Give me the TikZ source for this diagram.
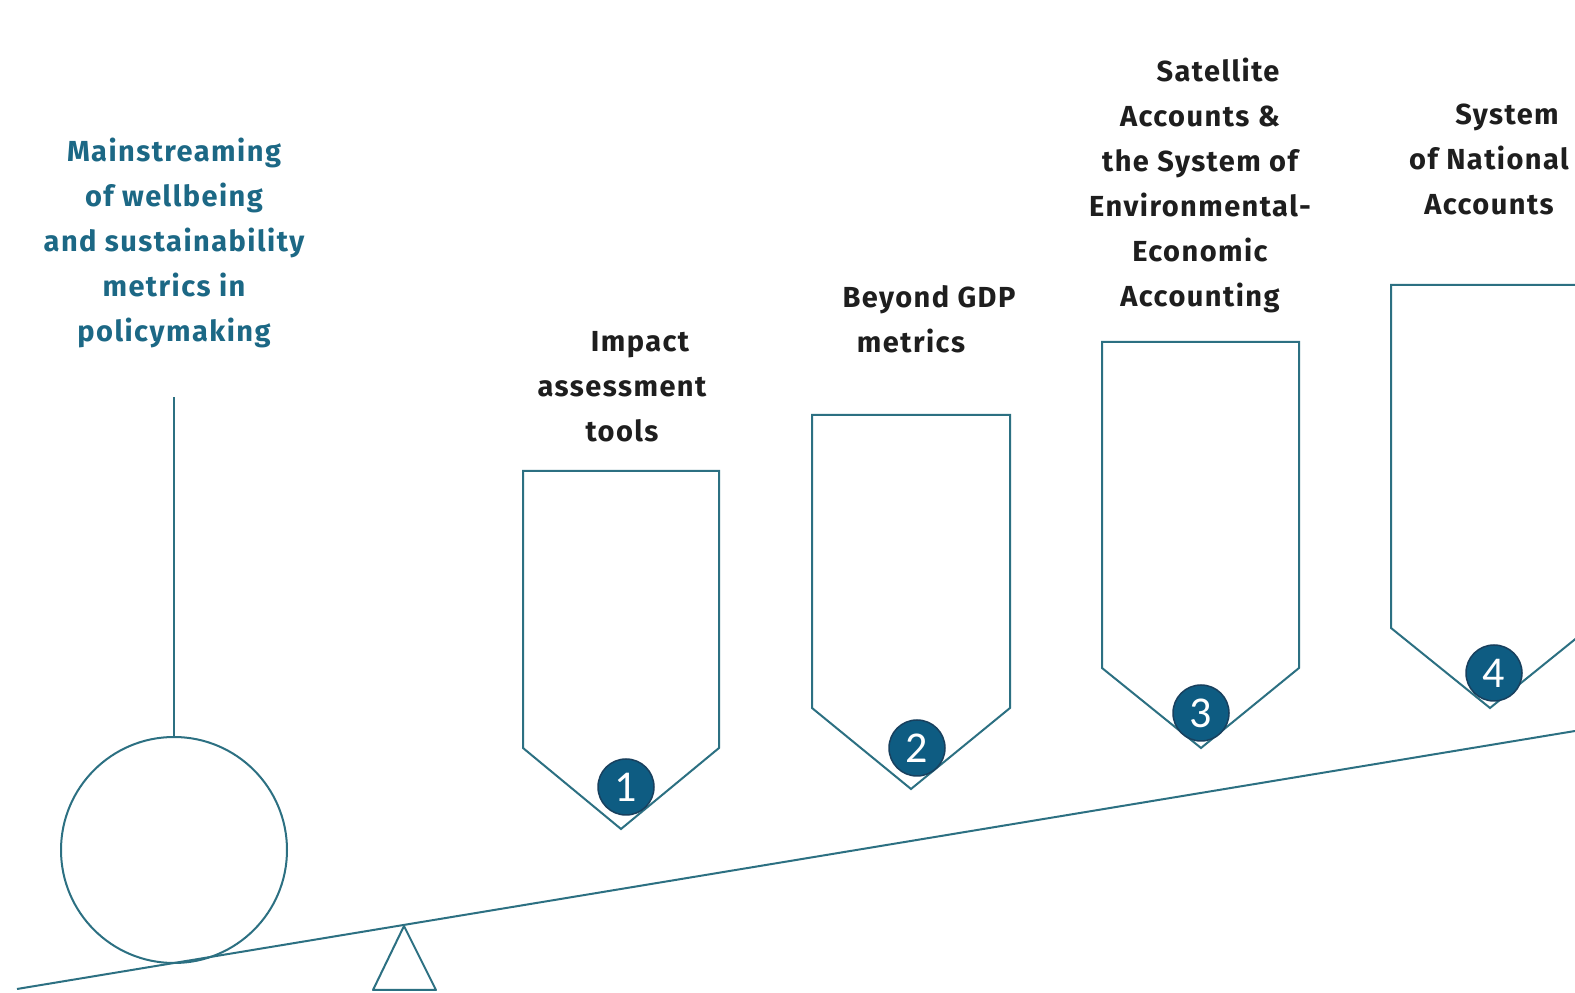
\documentclass[tikz,border=0pt]{standalone}
\usepackage{fontspec}
\setmainfont{Fira Sans}[LetterSpace=5.0]
\newfontfamily\numfont{Carlito}
\begin{document}
\begin{tikzpicture}[x=1pt,y=1pt]
\definecolor{fillColor}{RGB}{255,255,255}
\path[use as bounding box,fill=fillColor] (0,0) rectangle (1575,993);
\begin{scope}
\path[clip] (  0.00,  0.00) rectangle (1575,993);
\definecolor{drawColor}{RGB}{44,112,130}

% beam and fulcrum
\path[draw=drawColor,line width= 2.0pt,line join=round] ( 17.00,  4.00) --
	(1575.00,262.00);

\path[draw=drawColor,line width= 2.0pt,line join=round] (404.00, 67.00) --
	(373.00,  3.00) -- (436.00,  3.00) -- cycle;

% weight on the left
\path[draw=drawColor,line width= 2.0pt] (174.00,143.00) circle (113.00);

\path[draw=drawColor,line width= 2.0pt] (174.00,256.00) --
	(174.00,596.00);

% pointed boxes
\path[draw=drawColor,line width= 2.0pt,line join=miter] (523.00,522.00) --
	(523.00,245.00) -- (621.00,164.00) -- (719.00,245.00) -- (719.00,522.00) -- cycle;

\path[draw=drawColor,line width= 2.0pt,line join=miter] (812.00,578.00) --
	(812.00,285.00) -- (911.00,204.00) -- (1010.00,285.00) -- (1010.00,578.00) -- cycle;

\path[draw=drawColor,line width= 2.0pt,line join=miter] (1102.00,651.00) --
	(1102.00,325.00) -- (1201.00,245.00) -- (1299.00,325.00) -- (1299.00,651.00) -- cycle;

\path[draw=drawColor,line width= 2.0pt,line join=miter] (1391.00,708.00) --
	(1391.00,365.00) -- (1490.00,285.00) -- (1589.00,365.00) -- (1589.00,708.00) -- cycle;
\end{scope}
\begin{scope}
\path[clip] (  0.00,  0.00) rectangle (1575,993);
\definecolor{drawColor}{RGB}{24,64,94}
\definecolor{fillColor}{RGB}{14,92,130}

% step numbers
\node[circle,draw=drawColor,fill=fillColor,line width= 1.5pt,minimum size=56pt,inner sep=0pt,text=white,font=\numfont\fontsize{44}{44}\selectfont] (num1) at (626.00,206.00) {1};

\node[circle,draw=drawColor,fill=fillColor,line width= 1.5pt,minimum size=56pt,inner sep=0pt,text=white,font=\numfont\fontsize{44}{44}\selectfont] (num2) at (917.00,245.00) {2};

\node[circle,draw=drawColor,fill=fillColor,line width= 1.5pt,minimum size=56pt,inner sep=0pt,text=white,font=\numfont\fontsize{44}{44}\selectfont] (num3) at (1201.00,280.00) {3};

\node[circle,draw=drawColor,fill=fillColor,line width= 1.5pt,minimum size=56pt,inner sep=0pt,text=white,font=\numfont\fontsize{44}{44}\selectfont] (num4) at (1494.00,320.00) {4};
\end{scope}
\begin{scope}
\path[clip] (  0.00,  0.00) rectangle (1575,993);
\definecolor{drawColor}{RGB}{28,104,133}

\node[text=drawColor,anchor=north,align=center,inner sep=0pt, outer sep=0pt,font=\bfseries\fontsize{29}{45}\selectfont] (goal) at (174.00,855.00) {Mainstreaming\\of wellbeing\\and sustainability\\metrics in\\policymaking};
\end{scope}
\begin{scope}
\path[clip] (  0.00,  0.00) rectangle (1575,993);
\definecolor{drawColor}{RGB}{30,30,30}

\node[text=drawColor,anchor=north,align=center,inner sep=0pt, outer sep=0pt,font=\bfseries\fontsize{29}{45}\selectfont] (impact) at (622.00,662.00) {\hspace*{36pt}Impact\\assessment\\tools};

\node[text=drawColor,anchor=north,align=center,inner sep=0pt, outer sep=0pt,font=\bfseries\fontsize{29}{45}\selectfont] (beyond) at (911.00,708.00) {\hspace*{36pt}Beyond GDP\\metrics};

\node[text=drawColor,anchor=north,align=center,inner sep=0pt, outer sep=0pt,font=\bfseries\fontsize{29}{45}\selectfont] (seea) at (1200.00,935.00) {\hspace*{36pt}Satellite\\Accounts \&\\the System of\\Environmental-\\Economic\\Accounting};

\node[text=drawColor,anchor=north,align=center,inner sep=0pt, outer sep=0pt,font=\bfseries\fontsize{29}{45}\selectfont] (sna) at (1489.00,889.00) {\hspace*{36pt}System\\of National\\Accounts};
\end{scope}
\end{tikzpicture}
\end{document}
